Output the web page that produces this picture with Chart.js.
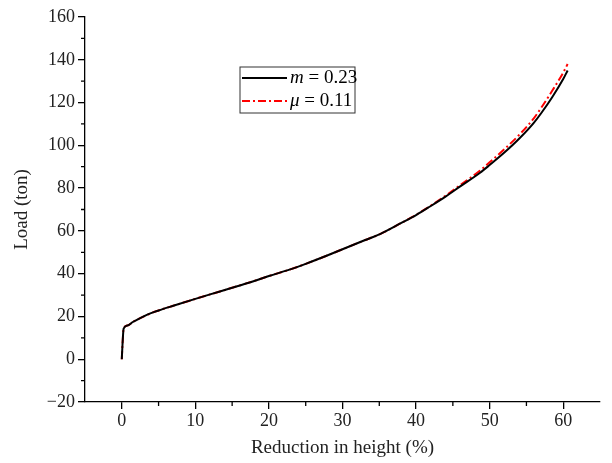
<!DOCTYPE html>
<html>
<head>
<meta charset="utf-8">
<script src="https://cdn.jsdelivr.net/npm/chart.js@4/dist/chart.umd.min.js"></script>
<style>
  html, body { margin: 0; padding: 0; background: #fff; }
  canvas { display: block; }
</style>
</head>
<body>
<canvas id="loadChart" width="612" height="463"></canvas>
<script>
"use strict";

// Data
const reduction = [0, 0.1, 0.25, 0.8, 1.5, 2.5, 3.8, 5, 7, 10, 12, 15, 18, 20, 22.9, 25, 28, 30, 33, 35.1,
    38, 40, 41.9, 44, 46, 48.7, 50, 52, 54.1, 56, 57, 58.5, 60, 60.6];
const loadM = [0, 7, 14.3, 15.8, 17.4, 19.2, 21.3, 22.8, 25.0, 28.2, 30.3, 33.4, 36.6, 38.9, 42, 44.6, 48.6, 51.4, 55.6, 58.5,
    63.7, 67.4, 71.4, 76, 80.8, 87.2, 90.8, 96.6, 103.4, 110.5, 115, 122.5, 131, 135];
const loadMu = [0, 7, 14.3, 15.8, 17.4, 19.2, 21.3, 22.8, 25.0, 28.2, 30.3, 33.4, 36.6, 38.9, 42, 44.6, 48.6, 51.4, 55.6, 58.5,
    63.7, 67.5, 71.6, 76.4, 81.4, 88.2, 92.1, 98.2, 105.2, 112.6, 117.5, 125.5, 134, 138];

const xTicks = [0, 10, 20, 30, 40, 50, 60];
const xMinor = [5, 15, 25, 35, 45, 55];
const yTicks = [-20, 0, 20, 40, 60, 80, 100, 120, 140, 160];
const yMinor = [-10, 10, 30, 50, 70, 90, 110, 130, 150];

const serif = "'Liberation Serif', 'Times New Roman', serif";

const toPoints = (xs, ys) => xs.map((x, i) => ({ x: x, y: ys[i] }));

// Minor ticks + boxed legend
const extras = {
    id: 'extras',
    afterDraw(chart) {
        const ctx = chart.ctx;
        const xs = chart.scales.x;
        const ys = chart.scales.y;
        const area = chart.chartArea;
        ctx.save();
        ctx.strokeStyle = '#000';
        ctx.lineWidth = 1.3;
        ctx.beginPath();
        xMinor.forEach(v => {
            const px = xs.getPixelForValue(v);
            ctx.moveTo(px, area.bottom);
            ctx.lineTo(px, area.bottom + 4);
        });
        yMinor.forEach(v => {
            const py = ys.getPixelForValue(v);
            ctx.moveTo(area.left, py);
            ctx.lineTo(area.left - 4, py);
        });
        ctx.stroke();

        // legend box
        const bx = 240, by = 67, bw = 115, bh = 46;
        ctx.lineWidth = 1;
        ctx.strokeStyle = '#333';
        ctx.strokeRect(bx, by, bw, bh);

        const rows = [
            { sym: 'm', val: ' = 0.23', color: '#000', dash: [], y: by + 11 },
            { sym: 'μ', val: ' = 0.11', color: '#f00', dash: [8, 3, 2, 3], y: by + 34 }
        ];
        rows.forEach(r => {
            ctx.beginPath();
            ctx.setLineDash(r.dash);
            ctx.strokeStyle = r.color;
            ctx.lineWidth = 2;
            ctx.moveTo(bx + 2, r.y);
            ctx.lineTo(bx + 47, r.y);
            ctx.stroke();
            ctx.setLineDash([]);
            ctx.fillStyle = '#000';
            ctx.textBaseline = 'middle';
            ctx.font = 'italic 19px ' + serif;
            ctx.fillText(r.sym, bx + 50, r.y);
            const w = ctx.measureText(r.sym).width;
            ctx.font = '19px ' + serif;
            ctx.fillText(r.val, bx + 50 + w, r.y);
        });
        ctx.restore();
    }
};

const chart = new Chart(document.getElementById('loadChart').getContext('2d'), {
    type: 'line',
    data: {
        datasets: [{
            label: 'm = 0.23',
            data: toPoints(reduction, loadM),
            borderColor: '#000',
            borderWidth: 2,
            pointRadius: 0,
            cubicInterpolationMode: 'monotone',
            fill: false
        }, {
            label: 'μ = 0.11',
            data: toPoints(reduction, loadMu),
            borderColor: '#f00',
            borderWidth: 2,
            borderDash: [8, 3, 2, 3],
            pointRadius: 0,
            cubicInterpolationMode: 'monotone',
            fill: false
        }]
    },
    options: {
        responsive: false,
        animation: false,
        layout: { padding: { top: 17, right: 12, left: 0, bottom: 0 } },
        plugins: {
            legend: { display: false },
            tooltip: { enabled: false }
        },
        scales: {
            x: {
                type: 'linear',
                min: -5,
                max: 65,
                afterBuildTicks: s => { s.ticks = xTicks.map(v => ({ value: v })); },
                afterFit: s => { s.height = 61; },
                grid: { drawOnChartArea: false, color: '#000', lineWidth: 1.3, tickLength: 7 },
                border: { display: true, color: '#000', width: 1.3 },
                ticks: { color: '#222', font: { family: serif, size: 18 }, padding: 1, maxRotation: 0, autoSkip: false },
                title: {
                    display: true,
                    text: 'Reduction in height (%)',
                    color: '#222',
                    font: { family: serif, size: 19 },
                    padding: { top: 0, bottom: 4 }
                }
            },
            y: {
                type: 'linear',
                min: -20,
                max: 160,
                afterBuildTicks: s => { s.ticks = yTicks.map(v => ({ value: v })); },
                afterFit: s => { s.width = 85; },
                grid: { drawOnChartArea: false, color: '#000', lineWidth: 1.3, tickLength: 7 },
                border: { display: true, color: '#000', width: 1.3 },
                ticks: {
                    color: '#222',
                    font: { family: serif, size: 18 },
                    padding: 3,
                    autoSkip: false,
                    callback: v => String(v).replace('-', '\u2212')
                },
                title: {
                    display: true,
                    text: 'Load (ton)',
                    color: '#222',
                    font: { family: serif, size: 19 },
                    padding: { top: 11, bottom: 0 }
                }
            }
        }
    },
    plugins: [extras]
});
</script>
</body>
</html>
